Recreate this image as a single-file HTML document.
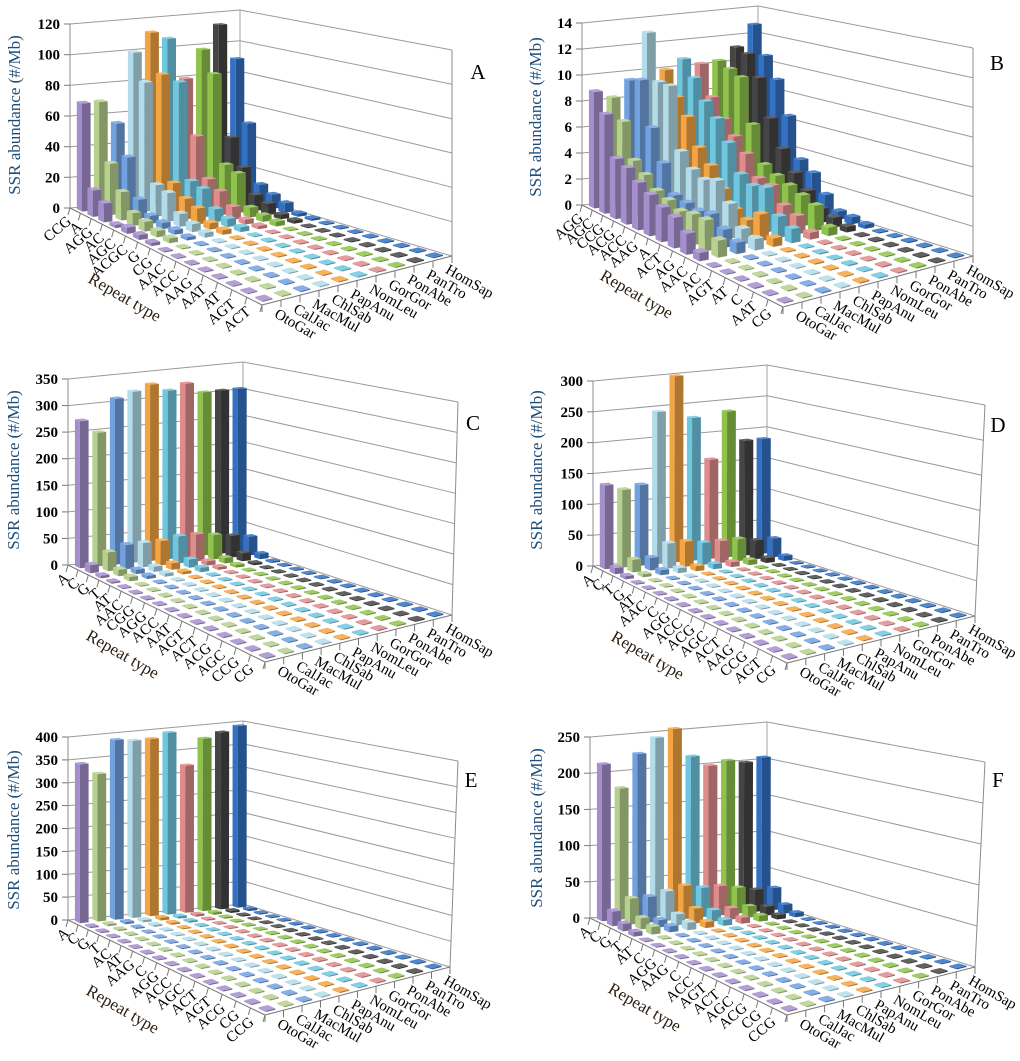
<!DOCTYPE html>
<html><head><meta charset="utf-8"><style>
html,body{margin:0;padding:0;background:#fff}
svg{display:block}
</style></head><body>
<svg id="s" width="1020" height="1061" xmlns="http://www.w3.org/2000/svg" font-family="Liberation Serif, serif"></svg>
<script>
var S=document.getElementById('s'),out='';
var COL=['#a48fcc','#b6d08e','#72a1e0','#b2dcea','#f3a443','#6ec6df','#de8c8c','#8fc34c','#454545','#3471c2'];
function sh(c,f){var n=parseInt(c.slice(1),16),r=n>>16,g=(n>>8)&255,b=n&255;
 function m(x){return Math.max(0,Math.min(255,Math.round(f>1?x+(255-x)*(f-1):x*f)));}
 return 'rgb('+m(r)+','+m(g)+','+m(b)+')';}
var SP=['OtoGar','CalJac','MacMul','ChlSab','PapAnu','NomLeu','GorGor','PonAbe','PanTro','HomSap'];
function fill(rows,n,tail){while(rows.length<n){var r=[];for(var j=0;j<10;j++)r.push(tail*(0.6+0.4*((j*7+rows.length*3)%5)/4));rows.push(r);}return rows;}
var P=[
{A:[70,208],Ap:[70,24],B:[240,194],Bp:[240,10],C:[452,256],Cp:[452,50],D:[262,305],Dp:[262,95],max:120,step:20,letter:'A',L:[478,72],Y:[16,115],
 lab:["CCG","A","AGG","AC","AGC","ACGC","G","CG","AAC","ACC","AAG","AAT","AT","AGT","ACT"],
 data:fill([[70,70,55,100,112,107,80,98,113,90],[17,33,36,83,87,81,45,84,42,50],[12,18,12,20,20,20,20,28,25,13],[2,8,5,18,13,18,15,25,10,9],[4,6,4,8,10,8,8,6,7,6],[3,4,3,5,4,5,3,4,3,2],[2,3,2,3,3,3,2,3,2,1.5]],15,0.5)},
{A:[582,205],Ap:[582,23],B:[758,188],Bp:[758,6],C:[973,256],Cp:[973,48],D:[783,307],Dp:[783,95],max:14,step:2,letter:'B',L:[997,63],Y:[537,117],
 lab:["AGG","AGC","CCG","ACG","ACC","AAG","A","ACT","AG","AAC","AC","AGT","AT","C","AAT","CG"],
 data:fill([[8.9,8.3,9.5,13,10,10.7,10.2,10.3,11.2,12.8],[7.5,6.8,9.8,9.5,8.2,9.5,7.9,9.9,10.9,10.6],[4.5,4.2,6.5,9.5,7,8,6.5,9.5,9.3,9.0],[4.2,3.5,4.2,4.9,5,7,5.5,6.2,6.5,6.5],[3.5,2.7,2.2,3.9,4,5.5,4.5,3.5,4.5,3.5],[3,2.4,2,3.5,2.6,3.5,3,3,3,2.8],[2.5,2,1.8,3.8,1.5,3,2.8,2.6,2,1.5],[2.2,2.2,2.0,2.5,1.1,3.2,1.7,2.2,1,0.6],[1.5,2.2,1.3,1.1,1.9,1.5,1.3,1.8,0.7,0.5],[0.6,1.2,0.8,0.8,0.6,1,0.5,0.6,0.4,0.3]],16,0.1)},
{A:[68,565],Ap:[68,379],B:[243,548],Bp:[243,362],C:[452,615],Cp:[458,402],D:[265,662],Dp:[265,447],max:350,step:50,letter:'C',L:[473,423],Y:[15,470],
 lab:["A","C","G","T","AT","AAC","CGG","AGG","ACC","AAT","AGT","ACT","ACG","AGC","CCG","CG"],
 data:fill([[275,250,310,320,330,315,325,305,305,305],[15,35,45,45,45,50,50,45,40,35],[5,12,8,10,12,15,8,10,15,10],[3,8,6,6,5,8,5,5,4,3]],16,1)},
{A:[593,566],Ap:[593,381],B:[767,550],Bp:[767,365],C:[975,616],Cp:[985,405],D:[787,663],Dp:[787,448],max:300,step:50,letter:'D',L:[998,425],Y:[538,470],
 lab:["A","C","T","G","AT","AAC","C","AGG","ACC","ACG","AGC","ACT","AAG","CCG","AGT","CG"],
 data:fill([[135,125,130,245,300,230,160,235,185,185],[10,20,20,40,40,35,35,35,30,30],[5,5,8,8,8,8,8,8,8,8]],16,1)},
{A:[68,920],Ap:[68,737],B:[243,904],Bp:[243,721],C:[450,967],Cp:[458,761],D:[265,1015],Dp:[265,802],max:400,step:50,letter:'E',L:[471,780],Y:[15,830],
 lab:["A","C","G","T","AC","AT","AAG","C","AGG","ACC","AGC","ACT","AGT","ACG","CG","CCG"],
 data:fill([[345,320,390,385,385,395,320,375,385,395],[3,4,5,5,6,5,5,5,5,5],[3,3,3,4,4,4,3,3,3,3]],16,1)},
{A:[590,918],Ap:[590,737],B:[767,903],Bp:[767,722],C:[975,967],Cp:[985,762],D:[787,1015],Dp:[787,802],max:250,step:50,letter:'F',L:[998,780],Y:[538,828],
 lab:["A","C","G","T","AT","C","AGG","AAG","C","ACC","AGT","ACT","AGC","ACG","CG","CCG"],
 data:fill([[215,180,225,245,255,215,200,205,200,205],[20,35,35,40,45,40,40,35,30,30],[10,15,10,15,20,15,15,15,12,12],[6,10,8,10,8,8,8,8,6,6]],16,0.8)}
];
function bl(a,b,c,d,u,v){return[a[0]*(1-u)*(1-v)+b[0]*u*(1-v)+d[0]*(1-u)*v+c[0]*u*v,a[1]*(1-u)*(1-v)+b[1]*u*(1-v)+d[1]*(1-u)*v+c[1]*u*v];}
function pt(p,u,v,t){v=v*(0.8+0.2*v);var f=bl(p.A,p.B,p.C,p.D,u,v),g=bl(p.Ap,p.Bp,p.Cp,p.Dp,u,v);return[f[0]+(g[0]-f[0])*t,f[1]+(g[1]-f[1])*t];}
function ln(a,b,c,w){out+='<line x1="'+a[0].toFixed(1)+'" y1="'+a[1].toFixed(1)+'" x2="'+b[0].toFixed(1)+'" y2="'+b[1].toFixed(1)+'" stroke="'+(c||'#8c8c8c')+'" stroke-width="'+(w||1)+'"/>';}
function poly(ps,c){out+='<polygon points="'+ps.map(function(q){return q[0].toFixed(1)+','+q[1].toFixed(1)}).join(' ')+'" fill="'+c+'"/>';}
P.forEach(function(p){
 var n=p.lab.length;
 for(var h=0;h<=p.max+1e-9;h+=p.step){var t=h/p.max;ln(pt(p,0,0,t),pt(p,1,0,t),'#9a9a9a');ln(pt(p,1,0,t),pt(p,1,1,t),'#9a9a9a');
  var a=pt(p,0,0,t);ln([a[0]-6,a[1]],a,'#777');
  out+='<text x="'+(a[0]-10)+'" y="'+(a[1]+5)+'" text-anchor="end" font-size="15" font-weight="bold">'+(Math.round(h*100)/100)+'</text>';}
 ln(p.Ap,p.A,'#8c8c8c');ln(p.Bp,p.B,'#a0a0a0');ln(p.Cp,p.C,'#8c8c8c');
 ln(p.A,p.D,'#777');ln(p.D,p.C,'#777');
 for(var i=0;i<=n;i++){var a=pt(p,0,i/n,0);ln(a,[a[0]-2,a[1]+7],'#777');}
 for(var j=0;j<=10;j++){var a=pt(p,j/10,1,0);ln(a,[a[0],a[1]+7],'#777');}
 var bars=[];
 for(var i=0;i<n;i++)for(var j=0;j<10;j++){var c=pt(p,(j+.5)/10,(i+.5)/n,0);bars.push([c[1],i,j]);}
 bars.sort(function(x,y){return x[0]-y[0];});
 var fw=0.25,fd=0.25;
 bars.forEach(function(b){var i=b[1],j=b[2],v=p.data[i][j],t=Math.max(v/p.max,0.006);
  var u0=(j+.5)/10-fw/10,u1=(j+.5)/10+fw/10,v0=(i+.5)/n-fd/n,v1=(i+.5)/n+fd/n,c=COL[j];
  var g=function(u,w,tt){return pt(p,u,w,tt);};
  poly([g(u0,v0,0),g(u0,v1,0),g(u0,v1,t),g(u0,v0,t)],sh(c,1.0));
  poly([g(u0,v1,0),g(u1,v1,0),g(u1,v1,t),g(u0,v1,t)],sh(c,0.72));
  poly([g(u0,v0,t),g(u1,v0,t),g(u1,v1,t),g(u0,v1,t)],sh(c,1.15));
 });
 for(var i=0;i<n;i++){var a=pt(p,0,(i+.5)/n,0);var x=a[0]-3,y=a[1]+12;
  out+='<text x="'+x.toFixed(1)+'" y="'+y.toFixed(1)+'" text-anchor="end" font-size="15" transform="rotate(-40 '+x.toFixed(1)+' '+y.toFixed(1)+')">'+p.lab[i]+'</text>';}
 for(var j=0;j<10;j++){var a=pt(p,(j+.5)/10,1,0);var x=a[0]+2,y=a[1]+14;
  out+='<text x="'+x.toFixed(1)+'" y="'+y.toFixed(1)+'" font-size="15" transform="rotate(30 '+x.toFixed(1)+' '+y.toFixed(1)+')">'+SP[j]+'</text>';}
 var rx=p.A[0]+52,ry=p.A[1]+94;
 out+='<text x="'+rx+'" y="'+ry+'" text-anchor="middle" font-size="17" fill="#2b1d10" transform="rotate(30 '+rx+' '+ry+')">Repeat type</text>';
 out+='<text x="'+p.Y[0]+'" y="'+p.Y[1]+'" text-anchor="middle" dominant-baseline="middle" font-size="17" fill="#1f4e79" transform="rotate(-90 '+p.Y[0]+' '+p.Y[1]+')">SSR abundance (#/Mb)</text>';
 out+='<text x="'+p.L[0]+'" y="'+(p.L[1]+7)+'" text-anchor="middle" font-size="21">'+p.letter+'</text>';
});
S.innerHTML=out;
</script>
</body></html>
